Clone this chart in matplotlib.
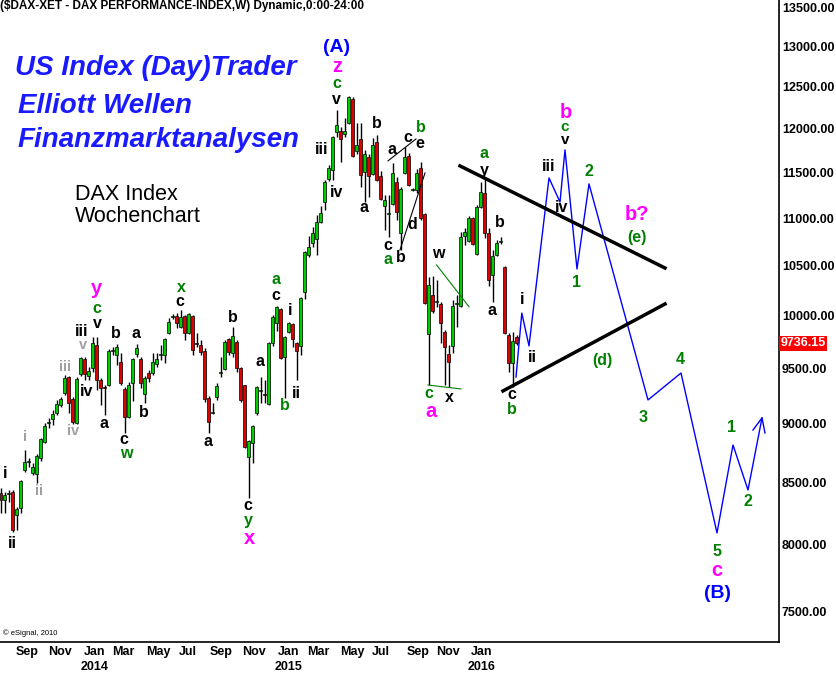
import numpy as np
import matplotlib.pyplot as plt
from matplotlib.ticker import NullLocator

plt.rcParams['font.family'] = ['Liberation Sans', 'DejaVu Sans']

W, H = 837, 677

# weekly candles (index 0 = first bar on the left)
opens = [8414, 8357, 8406, 8423, 8236, 8292, 8605, 8672, 8580, 8571,
         8706, 8843, 9009, 9044, 9097, 9168, 9276, 9421, 9222, 9009,
         9449, 9587, 9430, 9505, 9720, 9394, 9330, 9348, 9663, 9625,
         9560, 9312, 9062, 9367, 9635, 9587, 9267, 9458, 9458, 9541,
         9625, 9625, 9834, 9988, 9998, 9892, 9998, 9834, 9998, 9739,
         9720, 9663, 9231, 9097, 9240, 9458, 9495, 9777, 9644, 9748,
         9505, 9348, 8714, 8834, 9097, 9294, 9267, 9177, 9739, 9930,
         10067, 9606, 9844, 9920, 9739, 9711, 10235, 10611, 10735, 10777,
         10957, 11173, 11427, 11528, 11963, 11974, 11939, 12068, 12353, 11743,
         11881, 11505, 11675, 11483, 11846, 11461, 11130, 11044, 11152, 11394,
         10841, 11494, 11686, 11305, 11305, 11550, 11044, 9825, 10205, 10136,
         10116, 9844, 9635, 9711, 10116, 10097, 10809, 10757, 11001, 10621,
         11119, 11272, 10841, 10406, 10611, 10746, 10487, 9815, 9550, 9796]
highs = [8455, 8423, 8439, 8439, 8300, 8521, 8774, 8706, 8664, 8740,
         8877, 9009, 9053, 9123, 9213, 9240, 9440, 9430, 9240, 9421,
         9606, 9606, 9514, 9796, 9796, 9412, 9348, 9682, 9701, 9730,
         9644, 9330, 9376, 9597, 9730, 9606, 9430, 9486, 9644, 9644,
         9720, 9786, 9979, 10018, 10027, 10057, 10008, 10027, 10008, 9834,
         9767, 9692, 9249, 9186, 9367, 9606, 9767, 9786, 9892, 9767,
         9514, 9348, 8860, 8991, 9339, 9421, 9394, 9748, 10008, 10097,
         10077, 9805, 9940, 9930, 9748, 10186, 10653, 10809, 10905, 11033,
         11130, 11416, 11584, 11916, 12221, 12021, 12127, 12389, 12377, 12068,
         12068, 11755, 11709, 11892, 11927, 11517, 11250, 11250, 11607, 11449,
         11338, 11789, 11720, 11327, 11539, 11618, 11054, 10385, 10395, 10355,
         10136, 9863, 9720, 10156, 10205, 10852, 10894, 11022, 11012, 11141,
         11394, 11438, 10894, 10663, 10767, 10799, 10498, 9834, 9844, 9815]
lows = [8252, 8252, 8340, 8100, 8116, 8252, 8588, 8630, 8563, 8496,
        8681, 8834, 8965, 8991, 9079, 9150, 9258, 9097, 9000, 9000,
        9430, 9394, 9394, 9468, 9303, 9168, 9079, 9339, 9625, 9532,
        9348, 8921, 9053, 9204, 9606, 9321, 9186, 9376, 9440, 9514,
        9578, 9550, 9825, 9969, 9882, 9882, 9767, 9825, 9625, 9701,
        9625, 9195, 8921, 9090, 9213, 9421, 9486, 9625, 9606, 9468,
        9195, 8791, 8373, 8664, 9079, 9186, 9186, 9168, 9711, 9853,
        9587, 9231, 9834, 9701, 9394, 9625, 10166, 10590, 10694, 10611,
        10947, 11087, 11405, 11416, 11904, 11618, 11904, 12056, 11675, 11709,
        11338, 11173, 11228, 11472, 11405, 11195, 10873, 10799, 11141, 10979,
        10663, 11483, 11349, 11294, 11272, 10979, 10116, 9348, 10027, 10087,
        9739, 9348, 9330, 9644, 9892, 10087, 10715, 10746, 10715, 10611,
        11108, 10788, 10295, 10136, 10600, 10725, 9825, 9468, 9330, 9720]
closes = [8357, 8398, 8414, 8116, 8284, 8513, 8672, 8681, 8630, 8723,
          8869, 8982, 9018, 9088, 9177, 9222, 9412, 9186, 9018, 9403,
          9597, 9449, 9477, 9739, 9394, 9321, 9321, 9663, 9673, 9701,
          9367, 9062, 9348, 9587, 9692, 9367, 9412, 9412, 9560, 9587,
          9635, 9777, 9940, 9998, 9930, 9988, 9834, 10018, 9673, 9729,
          9654, 9222, 9018, 9106, 9339, 9468, 9748, 9654, 9805, 9505,
          9213, 8800, 8851, 8982, 9330, 9303, 9258, 9739, 9988, 10087,
          9597, 9796, 9930, 9777, 9663, 10176, 10642, 10694, 10841, 10957,
          11054, 11394, 11550, 11904, 12044, 11881, 11974, 12377, 11686, 11811,
          11472, 11709, 11461, 11811, 11416, 11206, 11195, 11054, 11494, 11065,
          11316, 11675, 11361, 11316, 11494, 11001, 10126, 10305, 10047, 10146,
          9930, 9701, 9560, 10097, 10126, 10799, 10852, 11001, 10725, 11119,
          11283, 10841, 10355, 10600, 10735, 10757, 9834, 9550, 9758, 9736.15]
last_price = 9736.15

# projected wave path (blue)
proj_x = [128.75, 130.2, 132, 137, 139.75, 141, 144, 147, 161.75, 170, 179, 183, 186.75, 190.25]
proj_y = [9421, 10027, 9711, 11438, 11173, 11755, 10467, 11372, 9213, 9458, 8093, 8817, 8439, 9053]
arrow_x = [188, 190.25, 191]
arrow_y = [8947, 9053, 8921]

# triangle trend lines
upper_x, upper_y = [114.75, 166], [11573, 10477]
lower_x, lower_y = [125.5, 166], [9294, 10116]
thin1_x, thin1_y = [96.75, 103.75], [11630, 11881]
thin2_x, thin2_y = [99.75, 106], [10663, 11494]
green1_x, green1_y = [108.9, 117], [10508, 10089]
green2_x, green2_y = [106.75, 115], [9348, 9312]

price_ticks = [7500, 8000, 8500, 9000, 9500, 10000, 10500, 11000, 11500, 12000, 12500, 13000, 13500]
month_pos = [6.5, 14.75, 23.5, 30.5, 39.25, 46.75, 55, 63.25, 72, 79.25, 87.75, 95, 104.25, 111.75, 120.25]
month_labels = ['Sep', 'Nov', 'Jan\n2014', 'Mar', 'May', 'Jul', 'Sep', 'Nov', 'Jan\n2015',
                'Mar', 'May', 'Jul', 'Sep', 'Nov', 'Jan\n2016']

BLK, GRN, MAG, GRY, BLU = 'black', '#008000', '#ff00ff', '#a0a0a0', '#0000ff'
# wave labels: pixel x, pixel y, text, colour, size
labels = [
    (5, 473, 'i', BLK, 11.5), (12, 543, 'ii', BLK, 11.5),
    (25, 437, 'i', GRY, 10.5), (39, 491, 'ii', GRY, 10.5), (65, 367, 'iii', GRY, 10.5),
    (83, 345, 'v', GRY, 10.5), (73, 431, 'iv', GRY, 10.5),
    (82, 332, 'iii', BLK, 11.5), (87, 392, 'iv', BLK, 11.5), (97, 324, 'v', BLK, 11.5),
    (97, 309, 'c', GRN, 11.5), (97, 288, 'y', MAG, 14.5),
    (104, 423, 'a', BLK, 11.5), (116, 333, 'b', BLK, 11.5), (124, 439, 'c', BLK, 11.5),
    (126, 454, 'w', GRN, 11.5), (136, 334, 'a', BLK, 11.5), (144, 412, 'b', BLK, 11.5),
    (180, 302, 'c', BLK, 11.5), (181, 288, 'x', GRN, 11.5),
    (208, 442, 'a', BLK, 11.5), (233, 317, 'b', BLK, 11.5), (260, 361, 'a', BLK, 11.5),
    (248, 506, 'c', BLK, 11.5), (248, 521, 'y', GRN, 11.5), (249, 538, 'x', MAG, 14.5),
    (276, 279, 'a', GRN, 11.5), (276, 295, 'c', BLK, 11.5), (290, 310, 'i', BLK, 11.5),
    (296, 393, 'ii', BLK, 11.5), (285, 406, 'b', GRN, 11.5),
    (322, 150, 'iii', BLK, 11.5), (337, 192, 'iv', BLK, 11.5), (336, 99, 'v', BLK, 11.5),
    (337, 83, 'c', GRN, 11.5), (337, 67, 'z', MAG, 14.5), (337, 48, '(A)', BLU, 14),
    (377, 124, 'b', BLK, 11.5), (364, 208, 'a', BLK, 11.5), (388, 245, 'c', BLK, 11.5),
    (388, 260, 'a', GRN, 11.5), (392, 149, 'a', BLK, 11.5), (408, 137, 'c', BLK, 11.5),
    (420, 144, 'e', BLK, 11.5), (421, 128, 'b', GRN, 11.5), (412, 224, 'd', BLK, 11.5),
    (401, 258, 'b', BLK, 11.5), (438, 254, 'w', BLK, 11.5),
    (429, 393, 'c', GRN, 11.5), (431, 411, 'a', MAG, 14.5), (449, 398, 'x', BLK, 11.5),
    (484, 153, 'a', GRN, 11.5), (484, 171, 'y', BLK, 11.5), (500, 223, 'b', BLK, 11.5),
    (492, 310, 'a', BLK, 11.5), (512, 395, 'c', BLK, 11.5), (512, 410, 'b', GRN, 11.5),
    (522, 299, 'i', BLK, 11.5), (532, 357, 'ii', BLK, 11.5),
    (549, 167, 'iii', BLK, 11.5), (562, 208, 'iv', BLK, 11.5),
    (566, 112, 'b', MAG, 14.5), (565, 127, 'c', GRN, 11), (565, 140, 'v', BLK, 11),
    (589, 172, '2', GRN, 11.5), (577, 282, '1', GRN, 11.5), (637, 215, 'b?', MAG, 14.5),
    (637, 238, '(e)', GRN, 11.5), (602, 360, '(d)', GRN, 11.5),
    (643, 417, '3', GRN, 11.5), (680, 359, '4', GRN, 11.5), (717, 551, '5', GRN, 11.5),
    (717, 571, 'c', MAG, 14.5), (718, 594, '(B)', BLU, 14),
    (732, 428, '1', GRN, 11.5), (748, 501, '2', GRN, 11.5),
]

fig = plt.figure(figsize=(W / 100, H / 100), dpi=100)
ax = fig.add_axes([0, (H - 642) / H, 779 / W, 642 / H])

x = np.arange(len(closes))
o = np.array(opens, dtype=float)
c = np.array(closes, dtype=float)
up = c >= o
ax.vlines(x, lows, highs, color='black', lw=1, zorder=2)
ax.bar(x, np.abs(c - o), bottom=np.minimum(o, c), width=0.75,
       color=np.where(up, '#00cc00', '#e00000'), edgecolor='black', linewidth=0.5, zorder=3)

ax.plot(proj_x, proj_y, color='#0000ff', lw=1, zorder=4)
ax.plot(arrow_x, arrow_y, color='#0000ff', lw=1, zorder=4)
ax.plot(upper_x, upper_y, color='black', lw=2.5, zorder=4)
ax.plot(lower_x, lower_y, color='black', lw=2.5, zorder=4)
ax.plot(thin1_x, thin1_y, color='black', lw=0.8, zorder=4)
ax.plot(thin2_x, thin2_y, color='black', lw=0.8, zorder=4)
ax.plot(green1_x, green1_y, color=GRN, lw=0.8, zorder=4)
ax.plot(green2_x, green2_y, color=GRN, lw=0.8, zorder=4)

ax.set_yscale('log')
ax.set_ylim(7277, 13604)
ax.set_xlim(-0.25, 194.5)
ax.yaxis.tick_right()
ax.set_yticks(price_ticks)
ax.set_yticklabels([f'{p:.2f}' for p in price_ticks])
ax.yaxis.set_minor_locator(NullLocator())
ax.set_xticks(month_pos)
ax.set_xticklabels(month_labels, linespacing=1.3)
ax.tick_params(axis='both', length=0, labelsize=9)
ax.tick_params(axis='y', pad=2)
ax.tick_params(axis='x', pad=3)
for lab in ax.get_xticklabels() + ax.get_yticklabels():
    lab.set_fontweight('bold')
for side in ['top', 'left']:
    ax.spines[side].set_visible(False)
for side in ['right', 'bottom']:
    ax.spines[side].set_linewidth(1.2)

ax.text(1.002, last_price, f'{last_price:.2f}', transform=ax.get_yaxis_transform(),
        color='white', fontsize=9, fontweight='bold', va='center', ha='left',
        bbox=dict(facecolor='#ff0000', edgecolor='none', pad=1.2))

for px, py, s, col, size in labels:
    fig.text(px / W, 1 - py / H, s, color=col, fontsize=size, fontweight='bold',
             ha='center', va='center')

fig.text(0.0, 1 - 6 / H, '($DAX-XET - DAX PERFORMANCE-INDEX,W) Dynamic,0:00-24:00',
         fontsize=8.5, fontweight='bold', ha='left', va='center')
for py, s in [(68, 'US Index (Day)Trader'), (106, 'Elliott Wellen'), (140, 'Finanzmarktanalysen')]:
    fig.text(15 / W if py == 68 else 18 / W, 1 - py / H, s, color='#1a1aff', fontsize=20,
             fontweight='bold', fontstyle='italic', ha='left', va='center')
fig.text(75 / W, 1 - 194 / H, 'DAX Index', fontsize=15.5, ha='left', va='center')
fig.text(75 / W, 1 - 217 / H, 'Wochenchart', fontsize=15.5, ha='left', va='center')
fig.text(3 / W, 1 - 633 / H, '© eSignal, 2010', fontsize=5.5, ha='left', va='center')

fig.savefig('out.png', dpi=100)
